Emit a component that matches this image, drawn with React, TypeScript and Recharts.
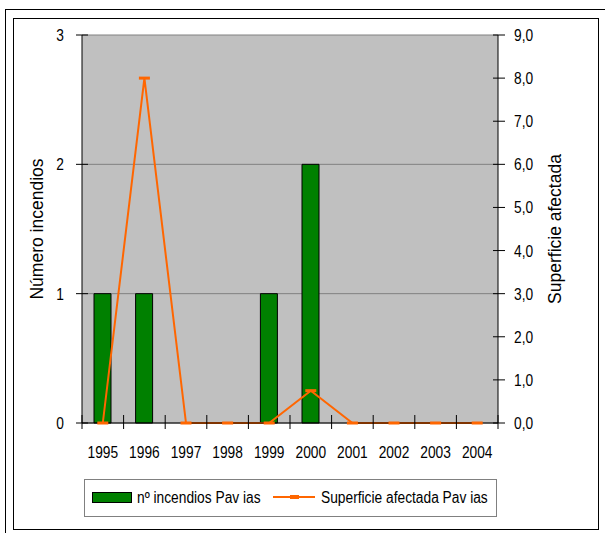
import {
  ComposedChart,
  Bar,
  Line,
  XAxis,
  YAxis,
  CartesianGrid,
  Legend,
  Label,
} from "recharts";

// ---------------------------------------------------------------------------
// Data
// ---------------------------------------------------------------------------
const years = ["1995", "1996", "1997", "1998", "1999", "2000", "2001", "2002", "2003", "2004"];
const incendios = [1, 1, 0, 0, 1, 2, 0, 0, 0, 0];
const superficie = [0, 8.0, 0, 0, 0, 0.75, 0, 0, 0, 0];
const leftTicks = [0, 1, 2, 3];
const rightTicks = [0, 1, 2, 3, 4, 5, 6, 7, 8, 9];

const BAR_NAME = "nº incendios Pav ias";
const LINE_NAME = "Superficie afectada Pav ias";

const data = years.map((year, i) => ({
  year,
  incendios: incendios[i],
  superficie: superficie[i],
}));

const FONT = '"Liberation Sans", Arial, sans-serif';
const NARROW = 0.86; // the original labels are horizontally squeezed
const ORANGE = "#FF6600";
const GREEN = "#008000";

// ---------------------------------------------------------------------------
// Ticks
// ---------------------------------------------------------------------------
function NarrowText({ x, y, anchor, children }: any) {
  return (
    <text
      transform={`translate(${x}, ${y}) scale(${NARROW}, 1)`}
      x={0}
      y={0}
      textAnchor={anchor}
      fontSize={16}
      fontFamily={FONT}
      fill="#000"
    >
      {children}
    </text>
  );
}

function YearTick(props: any) {
  const { x, y, payload, index, visibleTicksCount } = props;
  const half = payload.offset ?? 20.8;
  const left = payload.coordinate - half;
  const right = payload.coordinate + half;
  return (
    <g>
      <line x1={left} x2={left} y1={y - 8} y2={y + 6} stroke="#000" />
      {index === visibleTicksCount - 1 && (
        <line x1={right} x2={right} y1={y - 8} y2={y + 6} stroke="#000" />
      )}
      <NarrowText x={x} y={y + 35} anchor="middle">
        {payload.value}
      </NarrowText>
    </g>
  );
}

function LeftTick(props: any) {
  const { x, y, payload } = props;
  return (
    <g>
      <line x1={x - 6} x2={x + 6} y1={y} y2={y} stroke="#000" />
      <NarrowText x={x - 18} y={y + 6} anchor="end">
        {payload.value}
      </NarrowText>
    </g>
  );
}

function RightTick(props: any) {
  const { x, y, payload } = props;
  return (
    <g>
      <line x1={x - 5} x2={x + 7} y1={y} y2={y} stroke="#000" />
      <NarrowText x={x + 16} y={y + 6} anchor="start">
        {Number(payload.value).toFixed(1).replace(".", ",")}
      </NarrowText>
    </g>
  );
}

function axisTitle(text: string, offset: number) {
  return (props: any) => {
    const vb = props.viewBox;
    const cx = vb.x + offset;
    const cy = vb.y + vb.height / 2;
    return (
      <text
        x={cx}
        y={cy}
        transform={`rotate(-90, ${cx}, ${cy})`}
        textAnchor="middle"
        dominantBaseline="central"
        fontSize={17.5}
        fontFamily={FONT}
        fill="#000"
      >
        {text}
      </text>
    );
  };
}

// ---------------------------------------------------------------------------
// Marker & legend
// ---------------------------------------------------------------------------
function DashDot(props: any) {
  const { cx, cy, index } = props;
  if (cx == null || cy == null) return null;
  return <rect key={index} x={cx - 5.5} y={cy - 1.5} width={11} height={3} fill={ORANGE} />;
}

function LegendBox() {
  const text = {
    position: "absolute" as const,
    top: 8,
    fontSize: 16,
    lineHeight: "20px",
    fontFamily: FONT,
    color: "#000",
    whiteSpace: "nowrap" as const,
    transform: `scaleX(${NARROW})`,
    transformOrigin: "left center",
  };
  return (
    <div
      style={{
        position: "relative",
        boxSizing: "border-box",
        width: 413,
        height: 38,
        border: "1px solid #808080",
        background: "#fff",
      }}
    >
      <div
        style={{
          position: "absolute",
          left: 7,
          top: 12,
          width: 40,
          height: 11,
          background: GREEN,
          border: "1px solid #000",
          boxSizing: "border-box",
        }}
      />
      <span style={{ ...text, left: 52 }}>{BAR_NAME}</span>
      <div style={{ position: "absolute", left: 188, top: 16, width: 42, height: 2, background: ORANGE }} />
      <div style={{ position: "absolute", left: 205, top: 15, width: 9, height: 4, background: ORANGE }} />
      <span style={{ ...text, left: 236 }}>{LINE_NAME}</span>
    </div>
  );
}

// ---------------------------------------------------------------------------
// Component
// ---------------------------------------------------------------------------
export default function App() {
  return (
    <div
      style={{
        position: "absolute",
        left: 0,
        top: 0,
        width: 605,
        height: 533,
        overflow: "hidden",
        background: "#fff",
        fontFamily: FONT,
      }}
    >
      {/* frames */}
      <div
        style={{
          position: "absolute",
          left: 5,
          top: 9,
          width: 620,
          height: 560,
          border: "1px solid #000",
        }}
      />
      <div
        style={{
          position: "absolute",
          left: 13,
          top: 18,
          width: 584,
          height: 510,
          border: "1px solid #000",
        }}
      />

      <div style={{ position: "absolute", left: 0, top: 0 }}>
        <ComposedChart
          width={605}
          height={533}
          data={data}
          margin={{ top: 35, right: 0, bottom: 50, left: 0 }}
          barCategoryGap={0}
        >
          <CartesianGrid
            yAxisId="left"
            vertical={false}
            stroke="#808080"
            fill="#C0C0C0"
            fillOpacity={1}
          />
          <XAxis
            dataKey="year"
            height={60}
            tickSize={0}
            tickMargin={0}
            tickLine={false}
            interval={0}
            axisLine={{ stroke: "#000" }}
            tick={<YearTick />}
          />
          <YAxis
            yAxisId="left"
            orientation="left"
            width={82}
            domain={[0, 3]}
            ticks={leftTicks}
            interval={0}
            tickSize={0}
            tickMargin={0}
            tickLine={false}
            axisLine={{ stroke: "#000" }}
            tick={<LeftTick />}
          >
            <Label content={axisTitle("Número incendios", 37)} />
          </YAxis>
          <YAxis
            yAxisId="right"
            orientation="right"
            width={107}
            domain={[0, 9]}
            ticks={rightTicks}
            interval={0}
            tickSize={0}
            tickMargin={0}
            tickLine={false}
            axisLine={{ stroke: "#000" }}
            tick={<RightTick />}
          >
            <Label content={axisTitle("Superficie afectada", 57)} />
          </YAxis>
          <Legend
            layout="vertical"
            align="center"
            verticalAlign="middle"
            content={<LegendBox />}
            wrapperStyle={{ left: 84, top: 479, width: 413, height: 38 }}
          />
          <Bar
            yAxisId="left"
            dataKey="incendios"
            name={BAR_NAME}
            fill={GREEN}
            stroke="#000"
            strokeWidth={1}
            barSize={17}
            isAnimationActive={false}
          />
          <Line
            yAxisId="right"
            type="linear"
            dataKey="superficie"
            name={LINE_NAME}
            stroke={ORANGE}
            strokeWidth={2}
            dot={<DashDot />}
            activeDot={false}
            isAnimationActive={false}
          />
        </ComposedChart>
      </div>
    </div>
  );
}
